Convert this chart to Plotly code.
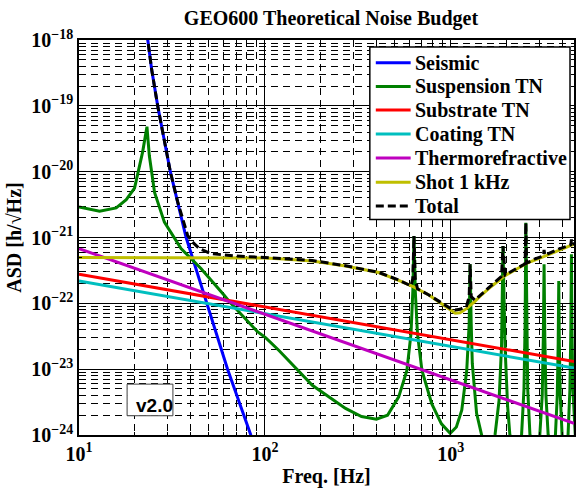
import plotly.graph_objects as go

# ---------------- data ----------------
freq_seis = [22.7, 23.4, 24.6, 26.5, 31.0, 37.7, 48.8, 63.0, 84.0, 95.0]
asd_seis = [2e-18, 1e-18, 3.55e-19, 1e-19, 1e-20, 1e-21, 1e-22, 1e-23, 1e-24, 4e-25]

freq_susp = [10.0, 12.9, 15.85, 17.95, 19.9, 21.1, 22.0, 23.2, 23.9, 25.5, 27.1, 28.8,
             35.4, 45.3, 60.4, 65.6, 91.2, 101.2, 119.1, 179.9, 271.6, 331, 398, 457,
             524.8, 580.8, 610.9, 625.2, 633.9, 644.2, 662.2, 699.8, 790.7, 891, 993.1,
             1072, 1146, 1219, 1256, 1271, 1288, 1306, 1377, 1466, 1585,
             1730, 1820, 1875, 1910, 1959, 2023, 2080, 2239,
             2404, 2477, 2512, 2535, 2559, 2594, 2667, 2818,
             3013, 3105, 3148, 3177, 3206, 3251, 3342, 3508,
             3656, 3741, 3784, 3811, 3837, 3882, 3972, 4121,
             4276, 4375, 4426, 4457, 4487, 4539, 4677]
asd_susp = [2.92e-21, 2.51e-21, 2.82e-21, 3.76e-21, 5.62e-21, 1.12e-20, 2.0e-20, 4.82e-20,
            1.74e-20, 4.85e-21, 2.82e-21, 1.71e-21,
            6.78e-22, 3.38e-22, 1.33e-22, 1.0e-22, 3.72e-23, 2.99e-23, 1.92e-23, 5.69e-24,
            2.53e-24, 1.91e-24, 1.74e-24, 2.0e-24,
            3.80e-24, 9.6e-24, 3.44e-23, 1.55e-22, 1.05e-21, 1.55e-22, 3.44e-23, 9.6e-24,
            2.96e-24, 1.48e-24, 1.06e-24,
            1.32e-24, 2.39e-24, 9.6e-24, 4.86e-23, 3.93e-22, 5.0e-23, 1.21e-23, 2.13e-24,
            1.0e-24, 2.5e-25,
            1.0e-24, 3.39e-24, 2.19e-23, 7.41e-22, 2.19e-23, 2.69e-24, 1.0e-24, 2.5e-25,
            1.0e-24, 5.0e-24, 5.0e-23, 1.67e-21, 5.0e-23, 5.0e-24, 1.0e-24, 2.5e-25,
            1.0e-24, 3.98e-24, 3.16e-23, 3.93e-22, 3.16e-23, 3.98e-24, 1.0e-24, 2.5e-25,
            1.0e-24, 3.98e-24, 2.51e-23, 2.19e-22, 2.51e-23, 3.98e-24, 1.0e-24, 2.5e-25,
            1.0e-24, 5.0e-24, 3.98e-23, 5.56e-22, 3.98e-23, 5.0e-24, 1.0e-24]

freq_sub = [10.0, 4603.0]
asd_sub = [2.77e-22, 1.31e-23]

freq_coat = [10.0, 4603.0]
asd_coat = [2.19e-22, 1.04e-23]

freq_tr = [10.0, 4603.0]
asd_tr = [6.78e-22, 1.50e-24]

freq_shot = [10, 63.1, 100, 125.9, 179.9, 271.6, 409.3, 524.8, 631, 758.6, 912, 1000,
             1057, 1122, 1216, 1349, 1466, 1660, 1959, 2291, 2612, 3162, 3802, 4603]
asd_shot = [4.95e-22, 4.95e-22, 4.90e-22, 4.73e-22, 4.41e-22, 3.70e-22, 2.94e-22, 2.24e-22,
            1.78e-22, 1.35e-22, 9.3e-23, 7.8e-23, 7.1e-23, 7.2e-23, 8.3e-23, 1.07e-22,
            1.35e-22, 1.82e-22, 2.63e-22, 3.39e-22, 4.17e-22, 5.13e-22, 6.31e-22, 7.94e-22]

freq_total = [22.7, 23.4, 24.6, 26.5, 31.0, 34.0, 38.4, 40.8, 44.4, 51.3, 68.4, 93.1,
              125.9, 179.9, 271.6, 409.3, 524.8, 610.9, 625.2, 633.9, 644.2, 662.2, 758.6,
              912, 1000, 1057, 1122, 1216, 1256, 1271, 1288, 1349, 1466, 1660, 1875, 1910,
              1959, 2291, 2512, 2535, 2559, 2818, 3148, 3177, 3206, 3802, 4426, 4457, 4487, 4677]
asd_total = [2e-18, 1e-18, 3.55e-19, 1e-19, 1e-20, 3.43e-21, 1.08e-21, 8.53e-22, 6.78e-22,
             5.69e-22, 5.24e-22, 5.01e-22,
             4.79e-22, 4.47e-22, 3.72e-22, 2.95e-22, 2.26e-22, 1.84e-22, 2.4e-22, 1.05e-21,
             2.4e-22, 1.66e-22, 1.35e-22,
             9.77e-23, 8.32e-23, 7.94e-23, 8.13e-23, 9.12e-23, 1.26e-22, 3.93e-22, 1.26e-22,
             1.12e-22, 1.38e-22, 1.86e-22, 2.57e-22, 7.41e-22,
             2.69e-22, 3.47e-22, 3.98e-22, 1.67e-21, 4.07e-22, 4.68e-22, 5.25e-22, 6.46e-22,
             5.37e-22, 6.68e-22, 7.76e-22, 9.33e-22, 7.94e-22, 8.13e-22]

series_names = ["Seismic", "Suspension TN", "Substrate TN", "Coating TN",
                "Thermorefractive", "Shot 1 kHz", "Total"]
series_x = [freq_seis, freq_susp, freq_sub, freq_coat, freq_tr, freq_shot, freq_total]
series_y = [asd_seis, asd_susp, asd_sub, asd_coat, asd_tr, asd_shot, asd_total]
series_colors = ["#0000ff", "#008000", "#ff0000", "#00bfbf", "#bf00bf", "#bfbf00", "#000000"]
series_dash = ["solid"] * 6 + ["8px,4px"]

x_tickvals = [10, 100, 1000]
x_ticktext = ["<b>10<sup>1</sup></b>", "<b>10<sup>2</sup></b>", "<b>10<sup>3</sup></b>"]
y_tickvals = [1e-24, 1e-23, 1e-22, 1e-21, 1e-20, 1e-19, 1e-18]
y_ticktext = ["<b>10<sup>\u221224</sup></b>", "<b>10<sup>\u221223</sup></b>",
              "<b>10<sup>\u221222</sup></b>", "<b>10<sup>\u221221</sup></b>",
              "<b>10<sup>\u221220</sup></b>", "<b>10<sup>\u221219</sup></b>",
              "<b>10<sup>\u221218</sup></b>"]

SERIF = "Liberation Serif, Times New Roman, serif"
W, H = 577, 488
ML, MR, MT, MB = 79, 1, 40, 52
PW, PH = W - ML - MR, H - MT - MB


def px2x(px):
    return (px - ML) / PW


def py2y(py):
    return (H - MB - py) / PH


fig = go.Figure()
for name, fx, fy, col, dash in zip(series_names, series_x, series_y, series_colors, series_dash):
    fig.add_trace(go.Scatter(x=fx, y=fy, mode="lines", name=name, showlegend=False,
                             line=dict(color=col, width=3, dash=dash)))

axis_common = dict(
    type="log", showline=True, linecolor="black", linewidth=1.5, mirror="allticks",
    ticks="inside", ticklen=6, tickcolor="black", tickwidth=1,
    showgrid=True, gridcolor="black", gridwidth=1,
    zeroline=False,
    tickfont=dict(family=SERIF, size=20, color="black"),
    minor=dict(dtick="D1", showgrid=True, gridcolor="black", gridwidth=1,
               griddash="7px,5px", ticks="inside", ticklen=3, tickcolor="black"),
)

fig.update_xaxes(**axis_common, range=[1, 3.663], tickvals=x_tickvals, ticktext=x_ticktext,
                 title=dict(text="<b>Freq. [Hz]</b>", standoff=8,
                            font=dict(family=SERIF, size=20, color="black")))
fig.update_yaxes(**axis_common, range=[-24, -18], tickvals=y_tickvals, ticktext=y_ticktext,
                 title=dict(text="<b>ASD [h/\u221aHz]</b>", standoff=4,
                            font=dict(family=SERIF, size=20, color="black")))

# manual legend (box, line samples, labels)
shapes = [dict(type="rect", xref="paper", yref="paper", x0=px2x(371), x1=px2x(572),
               y0=py2y(220), y1=py2y(47), line=dict(color="black", width=1.5),
               fillcolor="white", layer="above")]
annotations = []
legend_rows = [62.7, 86.7, 110.3, 134.3, 158.3, 182.5, 206.3]
for name, col, dash, ry in zip(series_names, series_colors, series_dash, legend_rows):
    shapes.append(dict(type="line", xref="paper", yref="paper", x0=px2x(377), x1=px2x(412),
                       y0=py2y(ry), y1=py2y(ry), layer="above",
                       line=dict(color=col, width=3, dash=dash)))
    annotations.append(dict(text="<b>%s</b>" % name, xref="paper", yref="paper",
                            x=px2x(414), y=py2y(ry), xanchor="left", yanchor="middle",
                            showarrow=False,
                            font=dict(family=SERIF, size=20, color="black")))

# version box
shapes.append(dict(type="rect", xref="paper", yref="paper", x0=px2x(127.3), x1=px2x(173.3),
                   y0=py2y(416.7), y1=py2y(385), line=dict(color="#404040", width=1),
                   fillcolor="white", layer="above"))
annotations.append(dict(text="<b>v2.0</b>", xref="paper", yref="paper", x=px2x(154.5),
                        y=py2y(406), xanchor="center", yanchor="middle", showarrow=False,
                        font=dict(family="Liberation Sans, Arial, sans-serif", size=19,
                                  color="black")))

fig.update_layout(
    width=W, height=H,
    margin=dict(l=ML, r=MR, t=MT, b=MB),
    paper_bgcolor="white", plot_bgcolor="white",
    title=dict(text="<b>GEO600 Theoretical Noise Budget</b>", x=px2x(331) * PW / W + ML / W,
               xanchor="center", xref="container", y=1 - 17.5 / H, yanchor="middle",
               font=dict(family=SERIF, size=20, color="black")),
    showlegend=False,
    shapes=shapes,
    annotations=annotations,
)

fig.write_html("out.html")
